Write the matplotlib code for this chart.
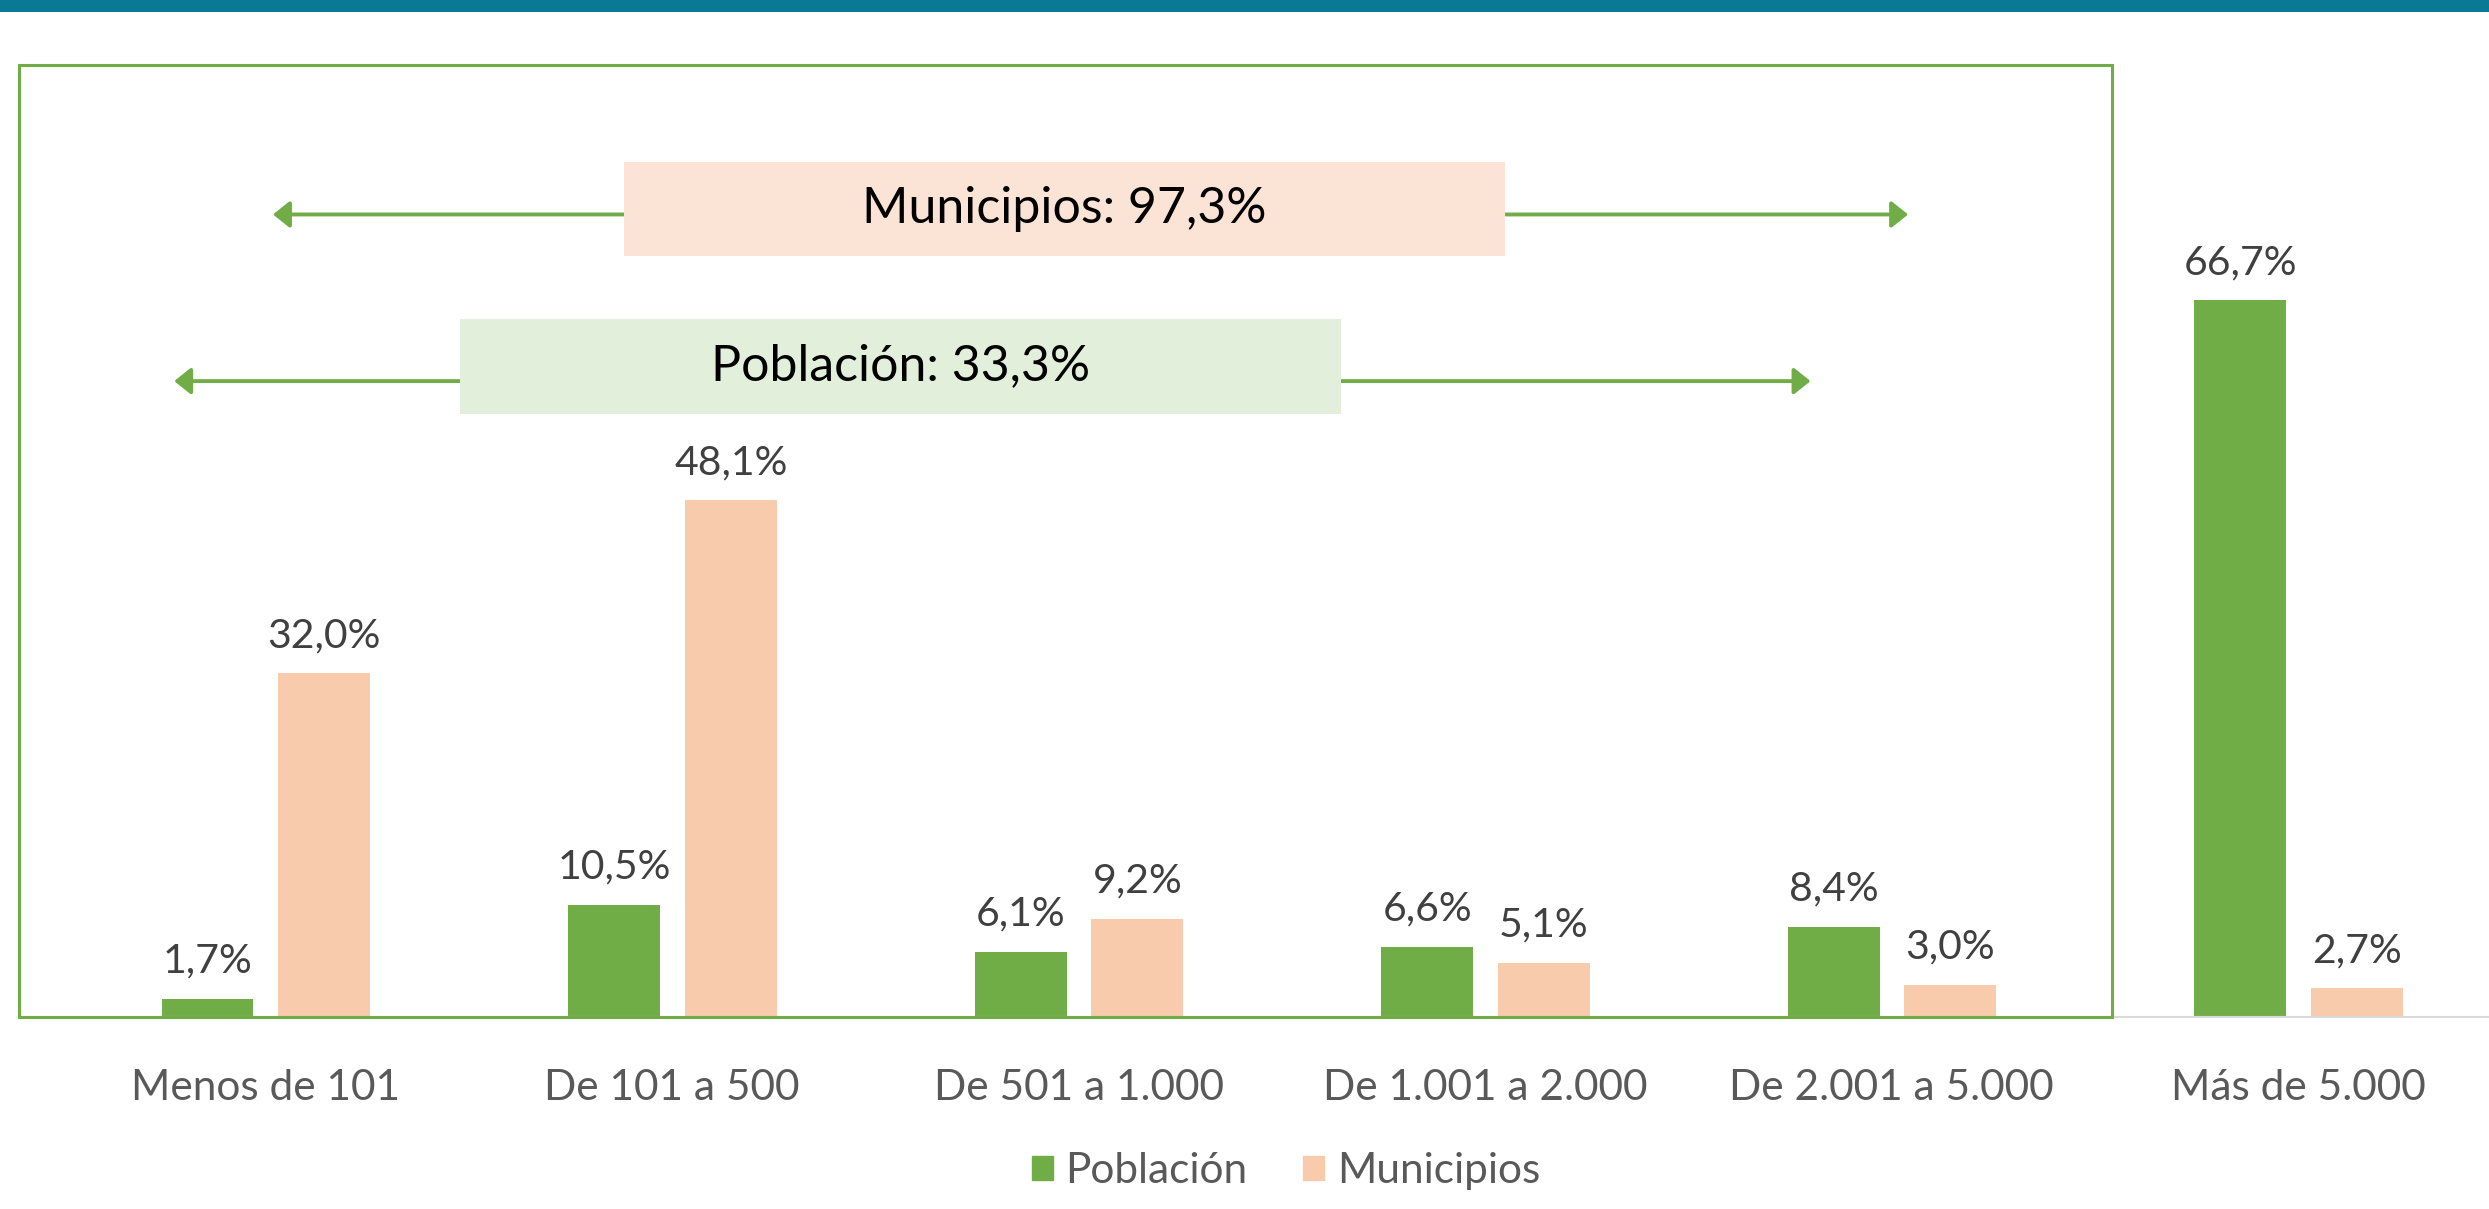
import numpy as np
import matplotlib.pyplot as plt
from matplotlib.patches import Rectangle, Patch

# datos
categorias = ['Menos de 101', 'De 101 a 500', 'De 501 a 1.000',
              'De 1.001 a 2.000', 'De 2.001 a 5.000', 'Más de 5.000']
poblacion = [1.7, 10.5, 6.1, 6.6, 8.4, 66.7]
municipios = [32.0, 48.1, 9.2, 5.1, 3.0, 2.7]
texto_mun = 'Municipios: 97,3%'
texto_pob = 'Población: 33,3%'

# cores
verde = '#70ad47'
salmon = '#f8cbad'
caja_mun = '#fbe4d6'
caja_pob = '#e2efda'
teal = '#0a7996'
gris = '#595959'

plt.rcParams['font.family'] = ['Lato', 'DejaVu Sans']

fig = plt.figure(figsize=(24.89, 12.09), dpi=100)
ax = fig.add_axes([0.0076, 0.1584, 0.9924, 0.7878])

x = np.arange(len(categorias))
w = 0.226
b1 = ax.bar(x - 0.143, poblacion, w, color=verde, zorder=2)
b2 = ax.bar(x + 0.144, municipios, w, color=salmon, zorder=2)

fmt = lambda v: f'{v:.1f}'.replace('.', ',') + '%'
ax.bar_label(b1, labels=[fmt(v) for v in poblacion], padding=14, fontsize=29.5, color='#404040')
ax.bar_label(b2, labels=[fmt(v) for v in municipios], padding=14, fontsize=29.5, color='#404040')

ax.set_xlim(-0.607, 5.469)
ax.set_ylim(0, 88.6)
ax.set_xticks(x)
ax.set_xticklabels(categorias, fontsize=30.5, color=gris)
ax.tick_params(axis='x', length=0, pad=37)
ax.set_yticks([])
for s in ['top', 'right', 'left']:
    ax.spines[s].set_visible(False)
ax.spines['bottom'].set_color('#d9d9d9')
ax.spines['bottom'].set_linewidth(1.5)

# marco verde
ax.add_patch(Rectangle((-0.607, 0), 4.541 + 0.607, 88.6, fill=False,
                       edgecolor=verde, lw=2.2, clip_on=False, zorder=3))

# flechas y cajas
def flecha(x0, x1, y, bx0, bx1, by0, by1, color, texto):
    ax.annotate('', xy=(x1, y), xytext=(x0, y),
                arrowprops=dict(arrowstyle='<|-|>,head_length=0.5,head_width=0.4',
                                color=verde, lw=2.8, mutation_scale=20,
                                shrinkA=0, shrinkB=0), zorder=3)
    ax.add_patch(Rectangle((bx0, by0), bx1 - bx0, by1 - by0, color=color, zorder=4, lw=0))
    ax.text((bx0 + bx1) / 2, (by0 + by1) / 2, texto, ha='center', va='center',
            fontsize=36, color='black', zorder=5)

flecha(0.018, 4.04, 74.7, 0.881, 3.049, 70.8, 79.6, caja_mun, texto_mun)
flecha(-0.225, 3.80, 59.2, 0.479, 2.646, 56.1, 65.0, caja_pob, texto_pob)

# leyenda
handles = [Patch(color=verde, label='Población'), Patch(color=salmon, label='Municipios')]
fig.legend(handles=handles, loc='center', bbox_to_anchor=(0.5166, 0.0315), ncol=2,
           frameon=False, fontsize=30.5, handlelength=0.5, handleheight=0.5,
           handletextpad=0.3, columnspacing=1.3, labelcolor=gris)

# franja superior
fig.add_artist(Rectangle((0, 1 - 12 / 1209), 1, 12 / 1209, transform=fig.transFigure,
                         color=teal, lw=0))

plt.savefig('out.png', dpi=100)
